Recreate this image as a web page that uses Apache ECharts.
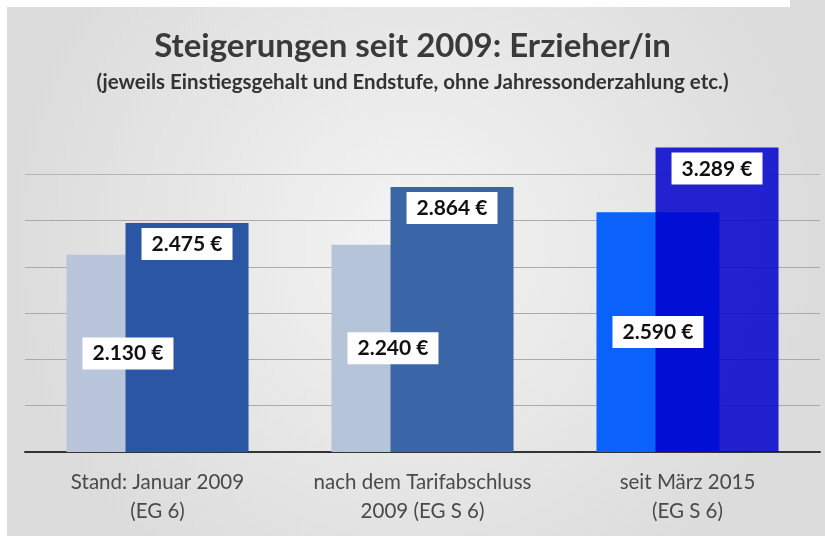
<!DOCTYPE html>
<html>
<head>
<meta charset="utf-8">
<script src="https://cdn.jsdelivr.net/npm/echarts@6/dist/echarts.min.js"></script>
<style>
  html, body { margin: 0; padding: 0; background: #fff; }
  #chart { width: 825px; height: 536px; }
</style>
</head>
<body>
<div id="chart"></div>
<script>
// Daten (Monatsgehalt in €)
const categories = ['Stand: Januar 2009\n(EG 6)', 'nach dem Tarifabschluss\n2009 (EG S 6)', 'seit März 2015\n(EG S 6)'];
const einstieg = [2130, 2240, 2590];   // Einstiegsgehalt
const endstufe = [2475, 2864, 3289];   // Endstufe
const yTicks = [0, 500, 1000, 1500, 2000, 2500, 3000, 3500];

// Farben je Gruppe
const lightColors = ['#b8c5da', '#b6c4d9', '#0a62fb'];
const darkColors = ['#2b56a4', '#3a65a7', 'rgba(0,0,205,0.85)'];

const fmt = v => v.toLocaleString('de-DE') + ' €';

const chart = echarts.init(document.getElementById('chart'));

const labelBox = {
  show: true,
  color: '#111',
  fontFamily: 'Lato, "Open Sans", sans-serif',
  fontWeight: 'bold',
  fontSize: 21,
  backgroundColor: '#fff',
  padding: [6, 10, 5, 10],
  formatter: p => fmt(p.value)
};

chart.setOption({
  backgroundColor: {
    type: 'radial', x: 0.5, y: 0.45, r: 0.75,
    colorStops: [
      { offset: 0, color: '#f4f4f4' },
      { offset: 1, color: '#dcdcdc' }
    ]
  },
  graphic: [
    { type: 'rect', left: 0, top: 0, shape: { width: 790, height: 7 }, style: { fill: '#fff' } },
    { type: 'rect', left: 0, top: 0, shape: { width: 7, height: 536 }, style: { fill: '#fff' } }
  ],
  title: {
    text: 'Steigerungen seit 2009: Erzieher/in',
    subtext: '(jeweils Einstiegsgehalt und Endstufe, ohne Jahressonderzahlung etc.)',
    left: 'center',
    top: 25,
    itemGap: 9,
    textStyle: { fontFamily: 'Lato, sans-serif', fontWeight: 'bold', fontSize: 33, color: '#3a3a3a' },
    subtextStyle: { fontFamily: 'Lato, sans-serif', fontWeight: 'bold', fontSize: 20.5, color: '#333' }
  },
  grid: { left: 25, right: 5, top: 128, bottom: 84 },
  xAxis: {
    type: 'category',
    data: categories,
    axisLine: { lineStyle: { color: '#333', width: 2 } },
    axisTick: { show: false },
    axisLabel: {
      interval: 0,
      color: '#4a4a4a', fontSize: 20.5, lineHeight: 29, margin: 16,
      fontFamily: 'Lato, "Open Sans", sans-serif'
    }
  },
  yAxis: {
    type: 'value',
    min: yTicks[0],
    max: yTicks[yTicks.length - 1],
    interval: 500,
    axisLabel: { show: false },
    axisLine: { show: false },
    axisTick: { show: false },
    splitLine: {
      lineStyle: {
        color: ['#aaa', '#aaa', '#aaa', '#aaa', '#aaa', '#aaa', '#b5b5b5', 'rgba(0,0,0,0)'],
        width: 1
      }
    }
  },
  series: [
    {
      name: 'Einstiegsgehalt',
      type: 'bar',
      barWidth: 123,
      barGap: '-52%',
      z: 2,
      data: einstieg.map((v, i) => ({ value: v, itemStyle: { color: lightColors[i] } })),
      label: Object.assign({}, labelBox, { position: 'inside' })
    },
    {
      name: 'Endstufe',
      type: 'bar',
      barWidth: 123,
      barGap: '-52%',
      z: 2,
      data: endstufe.map((v, i) => ({ value: v, itemStyle: { color: darkColors[i] } })),
      label: Object.assign({}, labelBox, { position: 'insideTop', distance: 5 })
    }
  ]
});
</script>
</body>
</html>
